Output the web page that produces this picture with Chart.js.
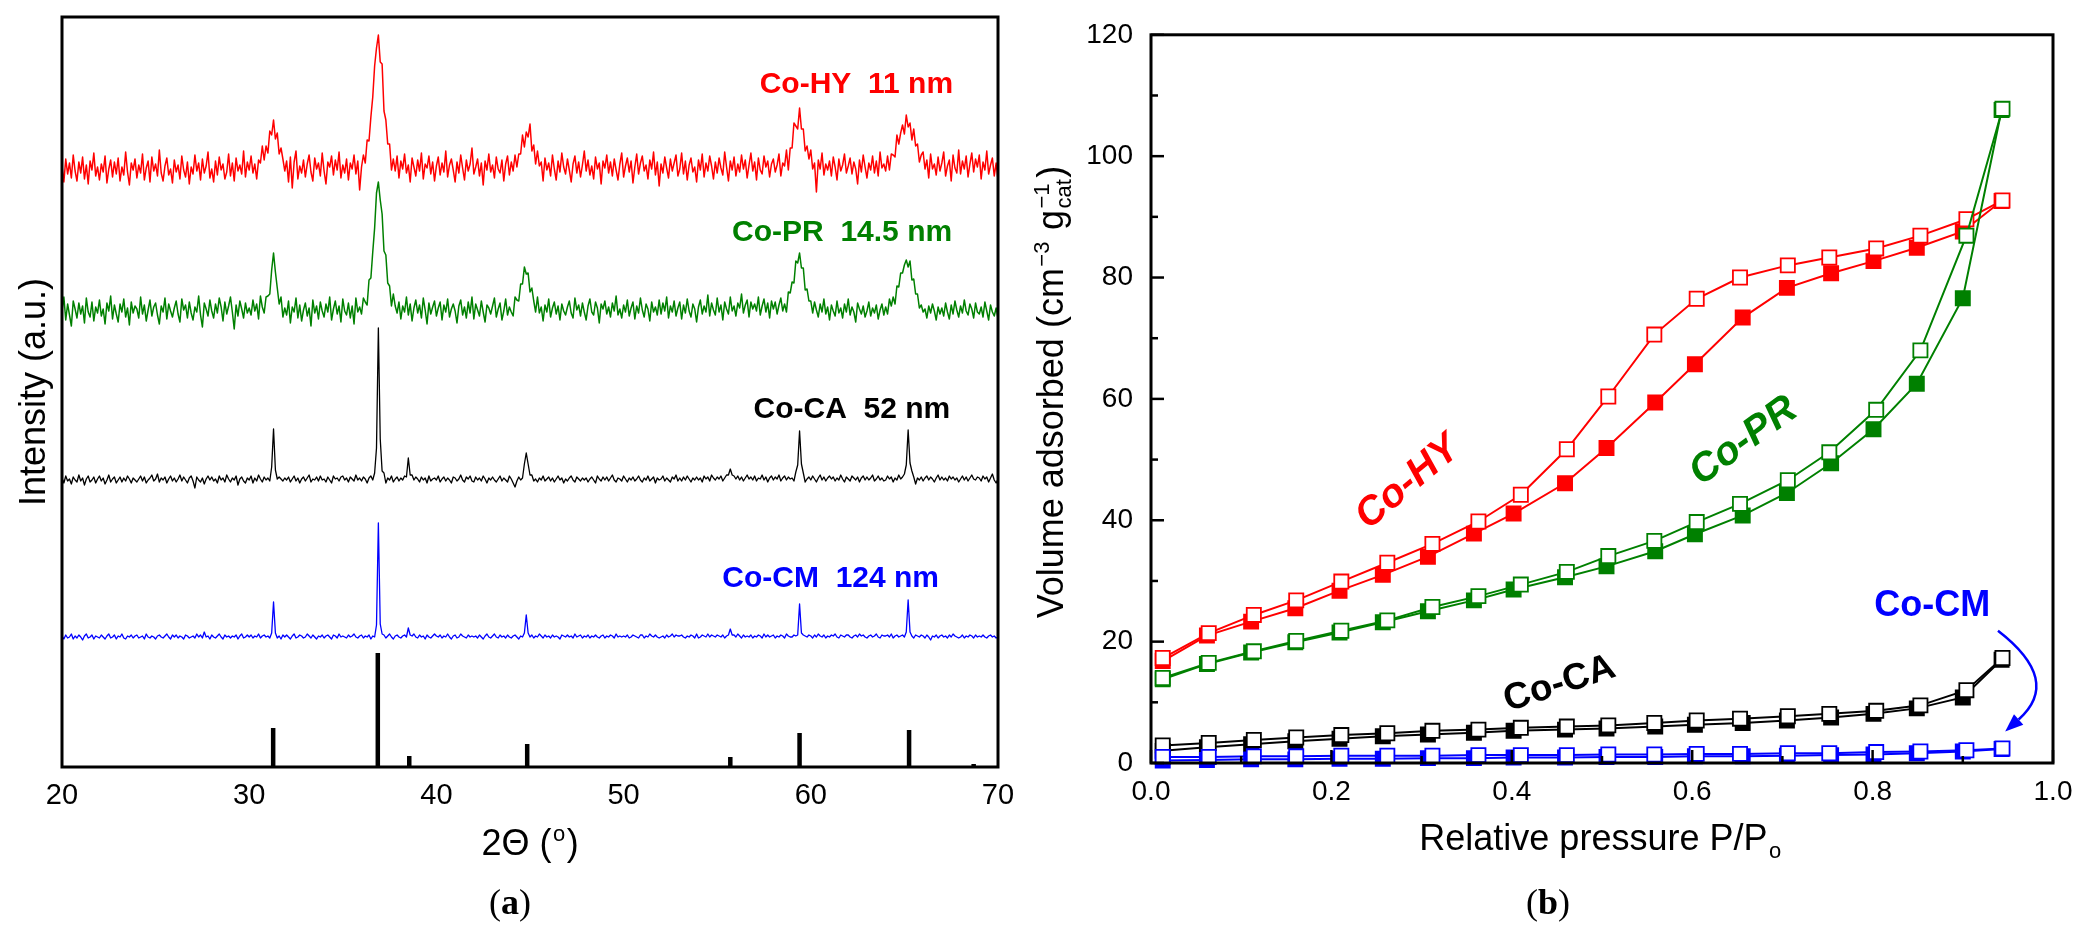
<!DOCTYPE html>
<html>
<head>
<meta charset="utf-8">
<script src="https://cdn.jsdelivr.net/npm/chart.js@4.4.1/dist/chart.umd.min.js"></script>
<style>
  html, body { margin: 0; padding: 0; background: #fff; }
  #wrap { position: relative; width: 2088px; height: 940px; overflow: hidden; background: #fff; }
  canvas { position: absolute; top: 0; }
  #xrd { left: 0; }
  #iso { left: 1000px; }
</style>
</head>
<body>
<div id="wrap">
  <canvas id="xrd" width="1044" height="940"></canvas>
  <canvas id="iso" width="1088" height="940"></canvas>
</div>
<script>
// --- (a) XRD patterns: counts every 0.1 deg from 20 to 70, stacked with offsets ---
const twoThetaStart = 20;
const twoThetaStep = 0.1;
const xrdTicks = [20, 30, 40, 50, 60, 70];
const stackOffsets = [567, 425, 267, 120]; // Co-HY, Co-PR, Co-CA, Co-CM

const hyCounts = [
  34,18,41,26,37,22,45,29,19,38, 27,43,21,35,16,39,30,47,24,33,
  20,36,28,44,17,31,40,23,38,26, 42,19,33,25,48,28,15,37,30,41,
  22,35,27,46,20,32,39,18,43,29, 36,24,50,27,19,34,42,25,31,17,
  40,28,35,21,44,30,23,38,16,33, 26,45,29,37,20,41,27,34,48,22,
  31,18,39,25,43,30,36,21,28,46, 24,37,19,42,29,35,26,49,23,38,
  30,44,27,36,21,40,37,54,40,54, 47,69,65,80,61,67,46,52,41,29,
  39,18,43,12,38,49,21,34,27,40, 23,36,45,28,19,42,31,37,24,47,
  29,16,38,33,44,25,40,30,48,22, 35,27,41,20,37,31,45,26,39,10,
  33,45,37,60,59,83,103,134,152,165, 138,136,89,80,56,56,30,41,29,44,
  22,39,31,46,27,35,18,42,33,24, 40,29,47,21,36,32,44,26,38,19,
  34,43,25,37,28,49,23,35,41,30, 18,38,27,45,32,20,40,29,36,52,
  26,33,41,24,37,15,39,30,46,28, 35,22,43,31,27,40,19,36,44,25,
  38,29,45,33,46,46,65,53,68,63, 76,49,55,36,49,34,38,19,42,30,
  37,24,45,31,20,39,28,47,33,26, 41,30,18,36,44,27,38,23,35,49,
  29,40,25,34,21,43,31,37,16,39, 32,45,27,38,24,41,30,20,36,47,
  23,34,42,28,39,17,33,46,26,37, 44,29,35,21,40,31,48,25,38,14,
  36,27,43,32,22,41,29,37,45,24, 31,47,26,39,20,35,42,28,33,18,
  40,30,46,23,37,29,44,34,21,38, 27,42,32,25,48,33,19,39,30,43,
  24,36,28,45,31,40,22,35,47,29, 38,20,42,30,26,44,33,39,23,36,
  41,28,35,46,24,37,34,50,30,52, 52,77,74,71,92,71,71,49,54,41,
  50,31,37,8,40,31,47,25,36,30, 39,24,43,33,20,41,29,35,46,27,
  34,42,26,38,31,16,40,28,45,33, 22,37,30,44,27,39,24,48,32,36,
  29,44,30,46,45,43,65,56,67,75, 66,85,73,77,60,71,54,56,38,45,
  48,31,40,22,46,31,36,25,43,29, 37,48,24,34,40,19,45,32,27,50,
  26,39,31,44,23,36,47,28,41,33, 45,21,38,30,49,26,35,42,24,37,
  20
];
const prCounts = [
  31,45,22,38,27,16,41,33,24,39, 28,36,19,44,30,25,40,21,35,29,
  42,26,33,18,39,31,46,23,37,28, 20,38,30,43,25,34,17,40,29,36,
  33,24,45,28,37,21,32,42,26,35, 39,27,18,36,30,44,23,38,31,25,
  34,41,28,20,43,32,37,24,40,29, 22,35,30,46,27,15,39,33,26,42,
  31,24,38,29,44,35,21,40,28,36, 45,30,13,37,26,41,33,24,39,29,
  34,27,42,31,38,23,46,35,29,45, 46,48,72,89,70,54,38,45,25,34,
  27,41,19,35,30,44,24,37,21,32, 39,26,34,16,42,29,36,23,40,31,
  25,38,30,45,22,33,41,28,36,20, 43,31,27,39,24,36,18,44,30,35,
  28,44,40,37,62,64,90,114,149,160, 142,128,91,87,59,56,36,48,36,29,
  40,23,36,30,45,27,38,21,34,42, 29,37,24,44,32,18,39,28,35,41,
  26,34,40,22,37,30,43,25,33,38, 31,19,36,42,27,35,24,40,29,45,
  23,38,32,26,41,30,20,37,34,28, 36,44,25,33,39,22,31,43,27,35,
  30,26,45,42,41,58,58,75,68,69, 50,54,41,30,45,29,35,21,37,30,
  43,25,34,40,28,36,22,38,31,27, 35,41,29,24,44,32,37,26,39,30,
  22,36,43,30,27,40,34,19,38,33, 41,28,35,25,39,31,46,27,33,24,
  37,30,42,26,34,40,23,36,29,44, 32,25,38,33,21,40,30,35,27,42,
  28,39,31,45,24,36,30,41,26,34, 40,23,37,29,43,31,25,38,33,20,
  35,42,28,36,30,47,26,39,32,27, 44,30,37,22,40,33,28,45,31,36,
  26,39,34,48,29,37,42,25,40,33, 38,31,45,27,36,43,30,39,24,41,
  33,40,28,37,44,31,38,30,50,49, 60,59,81,79,89,74,74,52,53,41,
  41,29,40,32,25,38,30,43,28,35, 22,37,31,26,41,29,34,24,38,30,
  43,27,35,30,20,39,33,28,36,25, 31,40,26,34,29,37,23,32,38,27,
  35,28,43,36,45,38,56,55,69,69, 77,82,75,81,62,63,48,48,34,37,
  30,33,24,36,29,38,31,22,35,28, 34,26,39,30,23,37,28,41,32,25,
  36,29,42,31,27,38,33,24,39,30, 28,35,25,40,31,22,37,30,26,34,
  24
];
const caCounts = [
  22,17,24,19,21,16,23,20,18,25, 19,22,15,21,24,18,20,23,17,21,
  24,19,22,16,20,25,18,21,23,17, 20,23,18,22,19,24,21,17,22,20,
  18,21,24,19,23,17,20,22,25,19, 21,26,18,22,20,23,17,21,24,19,
  22,18,21,25,19,23,20,17,22,24, 19,12,23,20,18,22,16,21,24,20,
  23,19,21,17,24,20,22,18,25,21, 18,22,20,24,15,21,23,19,17,22,
  20,24,17,22,19,25,21,18,23,20, 22,19,33,71,30,21,23,21,19,22,
  20,23,18,21,24,19,22,17,21,23, 19,22,25,18,21,20,23,19,24,20,
  21,18,23,20,17,24,21,22,19,23, 24,20,22,18,23,21,19,25,20,22,
  19,23,21,17,22,24,20,27,52,172, 61,29,27,17,22,20,24,18,21,23,
  19,22,20,24,23,42,25,25,20,23, 21,18,23,20,22,17,24,19,21,22,
  20,24,18,21,23,19,22,20,17,23, 22,19,21,25,20,18,23,21,24,19,
  18,23,20,22,19,24,21,17,22,20, 23,20,18,21,24,19,22,20,18,24,
  21,17,13,19,23,20,22,36,47,36, 25,25,19,21,18,22,20,24,19,21,
  23,19,22,18,21,24,20,22,17,21, 19,22,24,20,18,23,21,19,22,20,
  22,18,21,23,20,17,24,21,19,23, 20,23,19,22,25,20,18,22,21,19,
  24,21,18,22,20,23,19,21,24,20, 18,22,20,24,19,21,23,17,22,20,
  21,24,19,22,20,18,23,21,25,19, 22,19,23,20,24,21,18,22,20,23,
  20,22,18,24,21,23,19,25,22,20, 23,21,24,19,22,25,25,31,25,24,
  21,24,20,23,19,22,25,21,23,20, 24,19,22,21,25,20,23,18,22,24,
  20,23,21,25,19,22,24,20,23,21, 22,19,28,35,69,36,27,18,21,23,
  20,24,21,18,22,25,20,23,19,22, 24,21,23,19,22,20,25,21,18,23,
  21,19,24,22,20,23,18,22,24,20, 23,20,22,25,19,21,24,20,22,19,
  20,24,21,23,18,22,20,25,21,23, 26,35,70,37,29,23,16,22,20,23,
  19,22,24,20,23,21,18,22,25,20, 23,20,22,19,24,21,23,20,22,18,
  21,24,20,23,19,22,25,21,20,23, 22,19,24,21,23,18,22,26,20,17,
  21
];
const cmCounts = [
  11,8,12,9,10,13,8,11,9,12, 10,7,11,13,9,10,12,8,11,10,
  9,12,10,8,11,13,9,10,12,8, 11,10,13,9,8,11,10,12,9,11,
  12,9,10,11,8,13,10,9,11,10, 8,11,12,10,9,11,13,10,8,12,
  10,12,9,11,10,8,12,11,9,10, 11,9,13,10,12,9,15,10,11,8,
  12,10,9,11,13,10,8,12,10,11, 9,11,10,12,8,11,13,9,10,12,
  10,12,9,11,10,13,9,11,12,10, 11,9,14,45,14,9,11,8,12,10,
  12,10,8,11,13,9,10,12,11,9, 10,13,11,9,12,10,8,11,10,12,
  9,11,12,10,8,12,11,9,13,10, 11,10,9,12,10,11,13,10,9,11,
  12,9,11,10,12,8,11,10,22,124, 23,13,12,9,11,13,10,8,11,12,
  10,9,11,12,10,19,12,11,13,10, 9,12,10,11,8,12,10,9,11,13,
  11,10,12,9,11,10,13,10,8,11, 12,9,10,13,11,10,9,12,10,11,
  10,11,9,12,10,8,11,13,10,9, 11,13,10,9,12,10,11,9,12,10,
  9,11,12,10,8,11,10,14,32,14, 10,12,9,11,10,13,11,9,12,10,
  11,9,12,10,11,10,8,12,11,10, 12,10,11,9,13,10,11,12,9,11,
  10,12,9,11,10,12,10,9,11,12, 9,11,10,12,11,9,13,10,11,10,
  11,10,12,9,10,12,11,10,9,12, 12,9,11,10,13,11,10,12,10,9,
  10,11,9,12,10,11,13,10,12,11, 11,12,10,9,11,10,12,11,9,13,
  9,10,12,11,10,13,10,12,11,10, 12,11,10,12,9,11,12,18,12,12,
  10,13,11,9,12,10,11,10,12,9, 11,10,12,11,9,13,10,12,10,11,
  12,9,11,10,12,11,9,13,11,10, 10,12,11,12,43,14,12,11,10,12,
  11,9,12,10,13,11,10,12,9,11, 10,12,11,13,10,9,12,11,10,12,
  12,10,9,11,12,10,13,11,12,10, 9,11,12,10,11,13,10,9,12,11,
  11,12,10,13,9,11,12,10,11,12, 10,15,47,15,11,9,12,11,10,12,
  11,9,12,10,7,11,10,12,9,11, 12,10,11,9,12,10,13,11,10,9,
  10,12,9,11,10,12,11,9,12,10, 11,10,12,10,9,11,12,10,11,9,
  10
];
// reference stick pattern (Co3O4)
const refPos = [31.28, 36.87, 38.55, 44.85, 55.7, 59.4, 65.25, 68.7];
const refInt = [39, 114, 11, 23, 10, 34, 37, 3];

// --- (b) N2 isotherms ---
const pAds = [0.013, 0.062, 0.111, 0.160, 0.209, 0.257, 0.307, 0.358, 0.402, 0.459,
              0.505, 0.559, 0.603, 0.656, 0.705, 0.754, 0.801, 0.849, 0.900, 0.943];
const pDes = [0.013, 0.064, 0.114, 0.161, 0.211, 0.262, 0.312, 0.363, 0.410, 0.461,
              0.507, 0.558, 0.605, 0.653, 0.706, 0.752, 0.804, 0.853, 0.904, 0.944];
const hyAds = [16.8, 21.0, 23.3, 25.5, 28.4, 31.0, 34.0, 37.8, 41.1, 46.1,
               51.9, 59.4, 65.7, 73.4, 78.3, 80.7, 82.7, 84.9, 87.6, 92.6];
const hyDes = [17.3, 21.4, 24.4, 26.8, 29.9, 33.0, 36.1, 39.8, 44.2, 51.7,
               60.4, 70.6, 76.5, 80.0, 82.0, 83.3, 84.8, 86.9, 89.6, 92.7];
const prAds = [13.8, 16.3, 18.2, 19.9, 21.5, 23.2, 25.0, 26.8, 28.6, 30.6,
               32.4, 34.9, 37.7, 40.8, 44.5, 49.4, 55.0, 62.5, 76.6, 107.6];
const prDes = [14.0, 16.5, 18.4, 20.1, 21.8, 23.5, 25.7, 27.5, 29.4, 31.5,
               34.1, 36.6, 39.7, 42.7, 46.6, 51.2, 58.2, 68.0, 86.9, 107.8];
const caAds = [2.0, 2.6, 3.1, 3.6, 4.0, 4.4, 4.7, 5.0, 5.3, 5.5,
               5.7, 6.0, 6.3, 6.6, 7.0, 7.5, 8.1, 9.0, 10.8, 17.0];
const caDes = [2.9, 3.3, 3.8, 4.2, 4.6, 4.9, 5.3, 5.5, 5.8, 6.0,
               6.2, 6.6, 7.0, 7.3, 7.7, 8.1, 8.6, 9.5, 12.0, 17.3];
const cmAds = [0.4, 0.5, 0.6, 0.6, 0.7, 0.7, 0.8, 0.8, 0.9, 0.9,
               1.0, 1.0, 1.1, 1.1, 1.2, 1.3, 1.4, 1.6, 1.9, 2.3];
const cmDes = [1.0, 1.0, 1.1, 1.1, 1.2, 1.2, 1.2, 1.3, 1.3, 1.3,
               1.4, 1.4, 1.5, 1.5, 1.6, 1.6, 1.8, 1.9, 2.1, 2.4];
const pTicks = [0, 0.2, 0.4, 0.6, 0.8, 1.0];
const vTicks = [0, 20, 40, 60, 80, 100, 120];

const RED = '#ff0000', GREEN = '#008000', BLUE = '#0000ff', BLACK = '#000000';
const SANS = "'Liberation Sans', Arial, sans-serif";
Chart.defaults.font.family = SANS;
Chart.defaults.color = '#000';

// labels (positions in data units)
const xrdLabels = [
  { text: 'Co-HY  11 nm', color: RED, x: 67.6, y: 682 },
  { text: 'Co-PR  14.5 nm', color: GREEN, x: 67.55, y: 534 },
  { text: 'Co-CA  52 nm', color: BLACK, x: 67.45, y: 357 },
  { text: 'Co-CM  124 nm', color: BLUE, x: 66.85, y: 188 }
];
const isoLabels = [
  { text: 'Co-HY', color: RED, x: 0.285, y: 46.2, rot: -40, font: 'italic bold 40px ' + SANS },
  { text: 'Co-PR', color: GREEN, x: 0.657, y: 53.0, rot: -36, font: 'italic bold 40px ' + SANS },
  { text: 'Co-CA', color: BLACK, x: 0.453, y: 13.0, rot: -18, font: 'bold 37px ' + SANS },
  { text: 'Co-CM', color: BLUE, x: 0.866, y: 25.9, rot: 0, font: 'bold 36px ' + SANS }
];
const cmArrow = [[0.939, 21.8], [1.0105, 13.6], [0.947, 5.2]]; // start, control, tip

function trace(counts, offset) {
  return counts.map((c, i) => ({ x: +(twoThetaStart + i * twoThetaStep).toFixed(2), y: c + offset }));
}

function sticks(pos, h) {
  const pts = [];
  pos.forEach((p, i) => { pts.push({ x: p, y: 0 }, { x: p, y: h[i] }, { x: p, y: null }); });
  return pts;
}

// text with sub/superscripts, centred on (x, y)
function richText(ctx, parts, x, y, size, rot) {
  const big = size + 'px ' + SANS;
  const small = Math.round(size * 0.62) + 'px ' + SANS;
  ctx.save();
  ctx.translate(x, y);
  ctx.rotate(rot || 0);
  ctx.fillStyle = '#000';
  ctx.textAlign = 'left';
  ctx.textBaseline = 'alphabetic';
  const widths = parts.map(p => {
    if (typeof p === 'string') { ctx.font = big; return ctx.measureText(p).width; }
    ctx.font = small;
    return 3 + Math.max(...[p.sup, p.sub].filter(Boolean).map(s => ctx.measureText(s).width));
  });
  let cx = -widths.reduce((a, b) => a + b, 0) / 2;
  const base = size * 0.36;
  parts.forEach((p, i) => {
    if (typeof p === 'string') {
      ctx.font = big;
      ctx.fillText(p, cx, base);
    } else {
      ctx.font = small;
      if (p.sup) ctx.fillText(p.sup, cx + 1.5, base - size * 0.40);
      if (p.sub) ctx.fillText(p.sub, cx + 1.5, base + size * 0.22);
    }
    cx += widths[i];
  });
  ctx.restore();
}

function panelTag(ctx, letter, x, y) {
  const serif = "'Liberation Serif', 'DejaVu Serif', serif";
  const norm = '36px ' + serif, bold = 'bold 36px ' + serif;
  ctx.save();
  ctx.fillStyle = '#000';
  ctx.textBaseline = 'middle';
  ctx.textAlign = 'left';
  ctx.font = norm;
  const wp = ctx.measureText('(').width, wq = ctx.measureText(')').width;
  ctx.font = bold;
  const wl = ctx.measureText(letter).width;
  let cx = x - (wp + wl + wq) / 2;
  ctx.font = norm; ctx.fillText('(', cx, y); cx += wp;
  ctx.font = bold; ctx.fillText(letter, cx, y); cx += wl;
  ctx.font = norm; ctx.fillText(')', cx, y);
  ctx.restore();
}

const framePlugin = {
  id: 'frame',
  afterDatasetsDraw(chart) {
    const { ctx, chartArea: a } = chart;
    ctx.save();
    ctx.strokeStyle = '#000';
    ctx.lineWidth = 3;
    ctx.strokeRect(a.left, a.top, a.right - a.left, a.bottom - a.top);
    ctx.restore();
  }
};

const xrdDecor = {
  id: 'xrdDecor',
  afterDraw(chart) {
    const { ctx } = chart;
    const x = chart.scales.x, y = chart.scales.y;
    richText(ctx, ['Intensity (a.u.)'], 32, 392, 36, -Math.PI / 2);
    richText(ctx, ['2\u0398 (', { sup: 'o' }, ')'], 530, 842, 36, 0);
    panelTag(ctx, 'a', 510, 905);
    ctx.save();
    ctx.font = 'bold 30px ' + SANS;
    ctx.textAlign = 'right';
    ctx.textBaseline = 'middle';
    xrdLabels.forEach(l => {
      ctx.fillStyle = l.color;
      ctx.fillText(l.text, x.getPixelForValue(l.x), y.getPixelForValue(l.y));
    });
    ctx.restore();
  }
};

const isoDecor = {
  id: 'isoDecor',
  afterDatasetsDraw(chart) {
    const { ctx, chartArea: a } = chart;
    const x = chart.scales.x, y = chart.scales.y;
    ctx.save();
    ctx.strokeStyle = '#000';
    ctx.lineWidth = 2.5;
    // inward ticks, minor ones halfway between labelled ticks
    vTicks.forEach((v, i) => {
      const py = y.getPixelForValue(v);
      ctx.beginPath(); ctx.moveTo(a.left, py); ctx.lineTo(a.left + 13, py); ctx.stroke();
      if (i < vTicks.length - 1) {
        const pm = y.getPixelForValue((v + vTicks[i + 1]) / 2);
        ctx.beginPath(); ctx.moveTo(a.left, pm); ctx.lineTo(a.left + 7, pm); ctx.stroke();
      }
    });
    pTicks.forEach((v, i) => {
      const px = x.getPixelForValue(v);
      ctx.beginPath(); ctx.moveTo(px, a.bottom); ctx.lineTo(px, a.bottom - 13); ctx.stroke();
      if (i < pTicks.length - 1) {
        const pm = x.getPixelForValue((v + pTicks[i + 1]) / 2);
        ctx.beginPath(); ctx.moveTo(pm, a.bottom); ctx.lineTo(pm, a.bottom - 7); ctx.stroke();
      }
    });
    ctx.restore();
  },
  afterDraw(chart) {
    const { ctx } = chart;
    const x = chart.scales.x, y = chart.scales.y;
    richText(ctx, ['Volume adsorbed (cm', { sup: '\u22123' }, ' g', { sup: '\u22121', sub: 'cat' }, ')'],
      50, 392, 36, -Math.PI / 2);
    richText(ctx, ['Relative pressure P/P', { sub: 'o' }], 601, 837, 36, 0);
    panelTag(ctx, 'b', 548, 905);

    ctx.save();
    ctx.textAlign = 'center';
    ctx.textBaseline = 'middle';
    isoLabels.forEach(l => {
      ctx.save();
      ctx.translate(x.getPixelForValue(l.x), y.getPixelForValue(l.y));
      ctx.rotate(l.rot * Math.PI / 180);
      ctx.font = l.font;
      ctx.fillStyle = l.color;
      ctx.fillText(l.text, 0, 0);
      ctx.restore();
    });
    // curved arrow pointing at the Co-CM isotherm
    const [s, c, e] = cmArrow.map(([pv, vv]) => [x.getPixelForValue(pv), y.getPixelForValue(vv)]);
    const ang = Math.atan2(e[1] - c[1], e[0] - c[0]);
    const back = [e[0] - 18 * Math.cos(ang), e[1] - 18 * Math.sin(ang)];
    ctx.strokeStyle = BLUE;
    ctx.fillStyle = BLUE;
    ctx.lineWidth = 2.5;
    ctx.beginPath();
    ctx.moveTo(s[0], s[1]);
    ctx.quadraticCurveTo(c[0], c[1], back[0], back[1]);
    ctx.stroke();
    ctx.beginPath();
    ctx.moveTo(e[0], e[1]);
    ctx.lineTo(back[0] + 7 * Math.sin(ang), back[1] - 7 * Math.cos(ang));
    ctx.lineTo(back[0] - 7 * Math.sin(ang), back[1] + 7 * Math.cos(ang));
    ctx.closePath();
    ctx.fill();
    ctx.restore();
  }
};

const lineDefaults = { showLine: true, pointRadius: 0, pointHoverRadius: 0, fill: false, borderJoinStyle: 'round' };

new Chart(document.getElementById('xrd'), {
  type: 'scatter',
  data: {
    datasets: [
      { data: trace(hyCounts, stackOffsets[0]), borderColor: RED, borderWidth: 1.5 },
      { data: trace(prCounts, stackOffsets[1]), borderColor: GREEN, borderWidth: 1.5 },
      { data: trace(caCounts, stackOffsets[2]), borderColor: BLACK, borderWidth: 1.3 },
      { data: trace(cmCounts, stackOffsets[3]), borderColor: BLUE, borderWidth: 1.3 },
      { data: sticks(refPos, refInt), borderColor: BLACK, borderWidth: 4.5, borderJoinStyle: 'miter', spanGaps: false }
    ].map(d => Object.assign({}, lineDefaults, d))
  },
  options: {
    responsive: false,
    animation: false,
    events: [],
    layout: { padding: { top: 17, right: 46, left: 0, bottom: 0 } },
    plugins: { legend: { display: false }, tooltip: { enabled: false } },
    scales: {
      x: {
        type: 'linear', min: 20, max: 70,
        afterBuildTicks: s => { s.ticks = xrdTicks.map(v => ({ value: v })); },
        ticks: { font: { size: 29 }, color: '#000', padding: 12, maxRotation: 0 },
        grid: { display: false, drawTicks: false },
        border: { display: false },
        afterFit: s => { s.height = 173; }
      },
      y: {
        min: 0, max: 750,
        ticks: { display: false },
        grid: { display: false, drawTicks: false },
        border: { display: false },
        afterFit: s => { s.width = 62; }
      }
    }
  },
  plugins: [framePlugin, xrdDecor]
});

function iso(p, v, color, filled, order) {
  return {
    data: p.map((px, i) => ({ x: px, y: v[i] })),
    showLine: true, borderColor: color, borderWidth: 2,
    pointStyle: 'rect', pointRadius: 10, pointHoverRadius: 10, pointBorderWidth: 1.8,
    pointBorderColor: color, pointBackgroundColor: filled ? color : '#ffffff',
    order: order, clip: false
  };
}

new Chart(document.getElementById('iso'), {
  type: 'scatter',
  data: {
    datasets: [
      iso(pAds, hyAds, RED, true, 8),
      iso(pDes, hyDes, RED, false, 7),
      iso(pAds, prAds, GREEN, true, 6),
      iso(pDes, prDes, GREEN, false, 5),
      iso(pAds, caAds, BLACK, true, 4),
      iso(pDes, caDes, BLACK, false, 3),
      iso(pAds, cmAds, BLUE, true, 2),
      iso(pDes, cmDes, BLUE, false, 1)
    ]
  },
  options: {
    responsive: false,
    animation: false,
    events: [],
    layout: { padding: { top: 32, right: 35, left: 0, bottom: 0 } },
    plugins: { legend: { display: false }, tooltip: { enabled: false } },
    scales: {
      x: {
        type: 'linear', min: 0, max: 1,
        afterBuildTicks: s => { s.ticks = pTicks.map(v => ({ value: v })); },
        ticks: { font: { size: 28 }, color: '#000', padding: 12, maxRotation: 0, callback: v => v.toFixed(1) },
        grid: { display: false, drawTicks: false },
        border: { display: false },
        afterFit: s => { s.height = 177; }
      },
      y: {
        min: 0, max: 120,
        afterBuildTicks: s => { s.ticks = vTicks.map(v => ({ value: v })); },
        ticks: { font: { size: 28 }, color: '#000', padding: 18 },
        grid: { display: false, drawTicks: false },
        border: { display: false },
        afterFit: s => { s.width = 151; }
      }
    }
  },
  plugins: [framePlugin, isoDecor]
});
</script>
</body>
</html>
